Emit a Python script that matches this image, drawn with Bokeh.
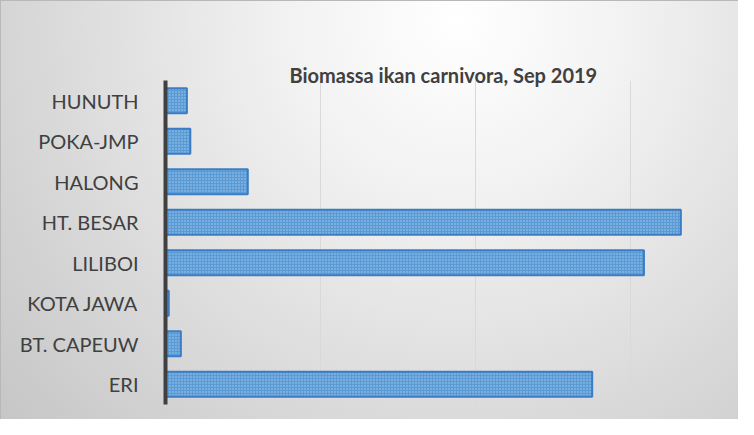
from bokeh.plotting import figure
from bokeh.models import FixedTicker, ColumnDataSource
from bokeh.embed import file_html
from bokeh.resources import INLINE

# Data (top to bottom as in the chart)
sites = ["HUNUTH", "POKA-JMP", "HALONG", "HT. BESAR", "LILIBOI", "KOTA JAWA", "BT. CAPEUW", "ERI"]
biomass = [138, 160, 531, 3325, 3087, 21, 99, 2753]
grid_ticks = [1000, 2000, 3000]
title_text = "Biomassa ikan carnivora, Sep 2019"

y_factors = list(reversed(sites))
src = ColumnDataSource(dict(site=sites, val=biomass))

p = figure(
    width=738, height=419,
    y_range=y_factors, x_range=(0, 3697),
    output_backend="svg", toolbar_location=None,
    min_border_left=165, min_border_right=0,
    min_border_top=80, min_border_bottom=15,
    title=title_text,
)

p.styles = {
    "background": "radial-gradient(circle farthest-corner at 62% 5%, #ffffff 0%, #f2f2f2 28%, #d8d8d8 70%, #c6c6c6 100%)",
    "box-shadow": "inset 1px 1px 0 #b8b8b8",
}
p.background_fill_color = None
p.border_fill_color = None
p.outline_line_color = None

p.title.align = "left"
p.title.offset = 124
p.title.standoff = -12
p.title.text_font = "Lato"
p.title.text_font_style = "bold"
p.title.text_font_size = "20px"
p.title.text_color = "#404040"

p.hbar(
    y="site", right="val", left=0, height=0.62, source=src,
    fill_color="#5b9bd5", line_color="#3a7dc4", line_width=2,
    hatch_pattern="dot", hatch_color="#a8c9ec", hatch_scale=3, hatch_weight=1,
)

# axes
p.xaxis.visible = False
p.yaxis.axis_line_color = "#404040"
p.yaxis.axis_line_width = 4
p.yaxis.major_tick_line_color = None
p.yaxis.minor_tick_line_color = None
p.yaxis.major_label_standoff = 21
p.yaxis.major_label_text_font = "Lato"
p.yaxis.major_label_text_font_size = "20px"
p.yaxis.major_label_text_color = "#404040"

p.ygrid.visible = False
p.xgrid.ticker = FixedTicker(ticks=grid_ticks)
p.xgrid.grid_line_color = "#d9d9d9"
p.xgrid.grid_line_width = 1

open("out.html", "w").write(file_html(p, INLINE))
